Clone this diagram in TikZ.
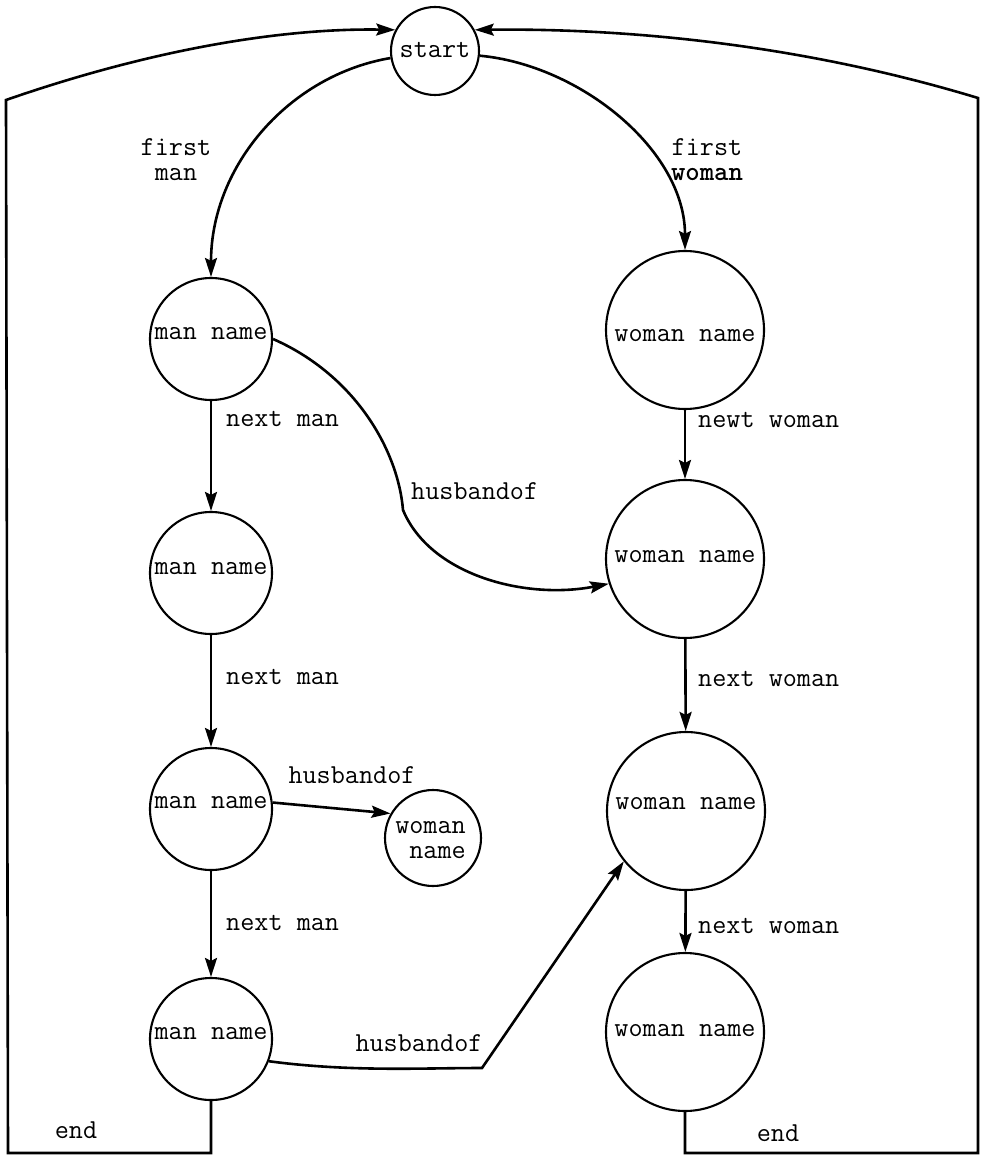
\documentclass[tikz,border=0pt]{standalone}
\usepackage{fontspec}
\usetikzlibrary{arrows.meta}
\begin{document}
\begin{tikzpicture}[x=1pt,y=-1pt,
  font=\ttfamily\fontsize{27.4}{25}\selectfont,
  every node/.style={inner sep=0pt},
  state/.style={circle,draw,line width=2.1pt,minimum size=#1},
  txt/.style={text height=12pt,text depth=0pt},
  conn/.style={line width=2.6pt,-{Stealth[length=19pt,width=12pt,inset=3pt]}},
]
\useasboundingbox (0,0) rectangle (982,1155);

% nodes
\node[state=88] (st) at (435,51) {};
\node[txt] (stt) at (435,52) {start};

\node[state=122] (m1) at (211,339) {};
\node[state=122] (m2) at (211,573) {};
\node[state=122] (m3) at (211,809) {};
\node[state=122] (m4) at (211,1039) {};
\node[txt] (m1t) at (211,333) {man name};
\node[txt] (m2t) at (211,568) {man name};
\node[txt] (m3t) at (211,802) {man name};
\node[txt] (m4t) at (211,1033) {man name};

\node[state=158] (w1) at (685,330) {};
\node[state=158] (w2) at (685,559) {};
\node[state=158] (w3) at (686,811) {};
\node[state=158] (w4) at (685,1032) {};
\node[txt] (w1t) at (685,335) {woman name};
\node[txt] (w2t) at (685,556) {woman name};
\node[txt] (w3t) at (686,803) {woman name};
\node[txt] (w4t) at (685,1030) {woman name};

\node[state=96] (sw) at (433,838) {};
\node[txt,anchor=east] (swt1) at (466,827) {woman};
\node[txt,anchor=east] (swt2) at (466,852) {name};

% connectors
\draw[conn] (st.189) .. controls (290,75) and (211,165) .. (m1.north);
\draw[conn] (st.-6) .. controls (580,65) and (685,150) .. (w1.north);

\draw[conn] (m1) -- (m2);
\draw[conn] (m2) -- (m3);
\draw[conn] (m3) -- (m4);
\draw[conn] (w1) -- (w2);
\draw[conn] (w2) -- (w3);
\draw[conn] (w3) -- (w4);

\coordinate (k1) at (403,510);
\draw[conn] (m1.east) .. controls (355,375) and (398,450) .. (k1)
  .. controls (430,575) and (525,600) .. (w2.198);
\draw[conn] (m3.6) -- (sw.150);
\coordinate (k2) at (482,1068);
\draw[conn] (m4.339) .. controls (350,1072) and (420,1068) .. (k2) -- (w3.219);

% frame (end loops)
\coordinate (bl) at (8,1153);
\coordinate (tl) at (6,100);
\coordinate (br) at (978,1153);
\coordinate (tr) at (978,98);
\draw[conn] (m4.south) |- (bl) -- (tl) .. controls (150,50) and (280,28) .. (st.152);
\draw[conn] (w4.south) |- (br) -- (tr) .. controls (820,50) and (650,28) .. (st.28);

% labels
\node[align=center] (lfm) at (176,160) {first\\man};
\node[align=center] (lfw) at (707,160) {first\\\textbf{woman}};
\node[txt,anchor=west] (l1) at (226,420) {next man};
\node[txt,anchor=west] (l2) at (411,493) {husbandof};
\node[txt,anchor=west] (l3) at (226,678) {next man};
\node[txt] (l4) at (352,777) {husbandof};
\node[txt,anchor=west] (l5) at (226,924) {next man};
\node[txt] (l6) at (419,1045) {husbandof};
\node[txt,anchor=west] (l7) at (698,421) {newt woman};
\node[txt,anchor=west] (l8) at (698,680) {next woman};
\node[txt,anchor=west] (l9) at (698,927) {next woman};
\node[txt] (e1) at (76,1132) {end};
\node[txt] (e2) at (778,1135) {end};
\end{tikzpicture}
\end{document}
